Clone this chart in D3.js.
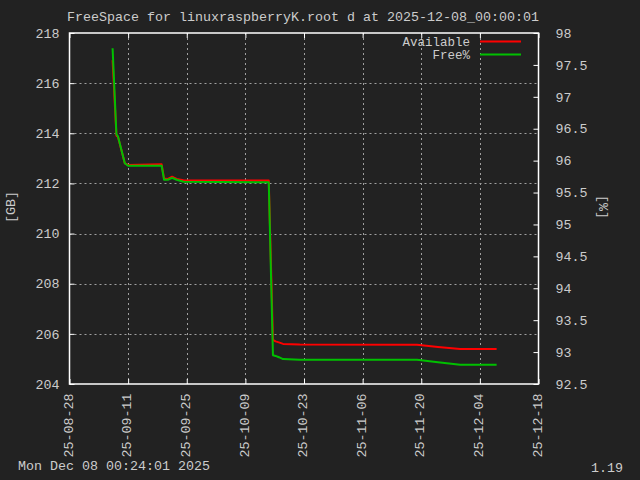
<!DOCTYPE html>
<html>
<head>
<meta charset="utf-8">
<script src="https://cdn.jsdelivr.net/npm/d3@7"></script>
<style>
  html, body { margin: 0; padding: 0; background: #222222; }
  svg { display: block; }
  text { font-family: "Liberation Mono", "DejaVu Sans Mono", monospace; font-size: 13.33px; fill: #cccccc; }
</style>
</head>
<body>
<svg id="chart" width="640" height="480"></svg>
<script>
// ---- data ----
const title = "FreeSpace for linuxraspberryK.root d at 2025-12-08_00:00:01";
const footerLeft = "Mon Dec 08 00:24:01 2025";
const footerRight = "1.19";
const seriesNames = ["Available", "Free%"];
const times = [
  "2025-09-07T07:00", "2025-09-08T05:00", "2025-09-08T14:00", "2025-09-10T05:00",
  "2025-09-11T00:00", "2025-09-19T00:00", "2025-09-19T14:00", "2025-09-20T12:00",
  "2025-09-21T12:00", "2025-09-22T14:00", "2025-09-24T05:00", "2025-10-14T14:00",
  "2025-10-15T14:00", "2025-10-16T05:00", "2025-10-17T00:00", "2025-10-18T00:00",
  "2025-10-22T00:00", "2025-11-19T00:00", "2025-11-24T00:00", "2025-11-29T07:00",
  "2025-12-08T00:00"
];
const availableGB = [
  216.92, 213.90, 213.85, 212.80,
  212.74, 212.76, 212.20, 212.18,
  212.27, 212.18, 212.13, 212.12,
  205.76, 205.70, 205.66, 205.60,
  205.58, 205.57, 205.48, 205.40,
  205.40
];
const freePct = [
  97.76, 96.41, 96.38, 95.96,
  95.92, 95.92, 95.70, 95.70,
  95.73, 95.70, 95.67, 95.66,
  92.95, 92.94, 92.92, 92.89,
  92.88, 92.88, 92.84, 92.80,
  92.80
];
const xTickDates = ["2025-08-28", "2025-09-11", "2025-09-25", "2025-10-09", "2025-10-23",
                    "2025-11-06", "2025-11-20", "2025-12-04", "2025-12-18"];
const yLeftTicks = [204, 206, 208, 210, 212, 214, 216, 218];
const yRightTicks = [92.5, 93, 93.5, 94, 94.5, 95, 95.5, 96, 96.5, 97, 97.5, 98];
const yLeftLabel = "[GB]";
const yRightLabel = "[%]";

// ---- layout ----
const L = 69.5, R = 538.5, T = 33, B = 384;
const parse = d3.utcParse("%Y-%m-%dT%H:%M");
const parseDay = d3.utcParse("%Y-%m-%d");
const tickDates = xTickDates.map(parseDay);
const data = times.map((t, i) => ({ t: parse(t), gb: availableGB[i], pct: freePct[i] }));

const x = d3.scaleUtc().domain([tickDates[0], tickDates[tickDates.length - 1]]).range([L, R]);
const yL = d3.scaleLinear().domain([204, 218]).range([B, T]);
const yR = d3.scaleLinear().domain([92.5, 98]).range([B, T]);

const svg = d3.select("#chart");
svg.append("rect").attr("width", 640).attr("height", 480).attr("fill", "#222222");

// grid
const grid = svg.append("g").attr("stroke", "#a0a0a0").attr("stroke-width", 1).attr("stroke-dasharray", "2,3");
grid.selectAll("line.gx").data(tickDates.slice(1, -1)).join("line")
  .attr("x1", d => Math.round(x(d)) + 0.5).attr("x2", d => Math.round(x(d)) + 0.5)
  .attr("y1", T).attr("y2", B);
grid.selectAll("line.gy").data(yLeftTicks.slice(1, -1)).join("line")
  .attr("x1", L).attr("x2", R)
  .attr("y1", d => Math.round(yL(d)) + 0.5).attr("y2", d => Math.round(yL(d)) + 0.5);

// axes
const fmt = d3.utcFormat("%y-%m-%d");
const gx = svg.append("g").attr("transform", `translate(0,${B})`)
  .call(d3.axisBottom(x).tickValues(tickDates).tickFormat(fmt).tickSize(-5));
gx.selectAll("text")
  .attr("transform", "rotate(-90)")
  .attr("text-anchor", "end")
  .attr("x", -9.5).attr("y", -2).attr("dy", "0.35em");
const gxt = svg.append("g").attr("transform", `translate(0,${T})`)
  .call(d3.axisTop(x).tickValues(tickDates).tickFormat("").tickSize(-5));
const gyl = svg.append("g").attr("transform", `translate(${L},0)`)
  .call(d3.axisLeft(yL).tickValues(yLeftTicks).tickFormat(d3.format("d")).tickSize(-5).tickPadding(10));
const gyr = svg.append("g").attr("transform", `translate(${R},0)`)
  .call(d3.axisRight(yR).tickValues(yRightTicks).tickFormat(d => String(d)).tickSize(-5).tickPadding(17));
[gx, gxt, gyl, gyr].forEach(g => {
  g.attr("font-family", null).attr("font-size", null);
  g.select(".domain").remove();
  g.selectAll(".tick line").attr("stroke", "#ffffff");
  g.selectAll("text").attr("fill", "#cccccc");
});

// border
svg.append("rect").attr("x", L).attr("y", T).attr("width", R - L).attr("height", B - T)
  .attr("fill", "none").attr("stroke", "#ffffff").attr("stroke-width", 1.5);

// lines
const lineGB = d3.line().x(d => x(d.t)).y(d => yL(d.gb));
const linePct = d3.line().x(d => x(d.t)).y(d => yR(d.pct));
svg.append("path").datum(data).attr("d", lineGB)
  .attr("fill", "none").attr("stroke", "#ff0000").attr("stroke-width", 2).attr("stroke-linejoin", "round");
svg.append("path").datum(data).attr("d", linePct)
  .attr("fill", "none").attr("stroke", "#00c000").attr("stroke-width", 2).attr("stroke-linejoin", "round");

// legend
const legend = svg.append("g");
const legColors = ["#ff0000", "#00c000"];
seriesNames.forEach((name, i) => {
  const yy = 41.5 + i * 13;
  legend.append("text").attr("x", 470).attr("y", yy).attr("dy", "0.35em")
    .attr("text-anchor", "end").style("font-size", "12.5px").text(name);
  legend.append("line").attr("x1", 480).attr("x2", 521).attr("y1", yy).attr("y2", yy)
    .attr("stroke", legColors[i]).attr("stroke-width", 2);
});

// titles
svg.append("text").attr("x", 303).attr("y", 16).attr("dy", "0.35em")
  .attr("text-anchor", "middle").text(title);
svg.append("text").attr("transform", "translate(10,207) rotate(-90)")
  .attr("text-anchor", "middle").attr("dy", "0.35em").text(yLeftLabel);
svg.append("text").attr("transform", "translate(604,207) rotate(90)")
  .attr("text-anchor", "middle").attr("dy", "0.35em").text(yRightLabel);
svg.append("text").attr("x", 18).attr("y", 465).attr("dy", "0.35em").text(footerLeft);
svg.append("text").attr("x", 623).attr("y", 467).attr("dy", "0.35em")
  .attr("text-anchor", "end").text(footerRight);
</script>
</body>
</html>
